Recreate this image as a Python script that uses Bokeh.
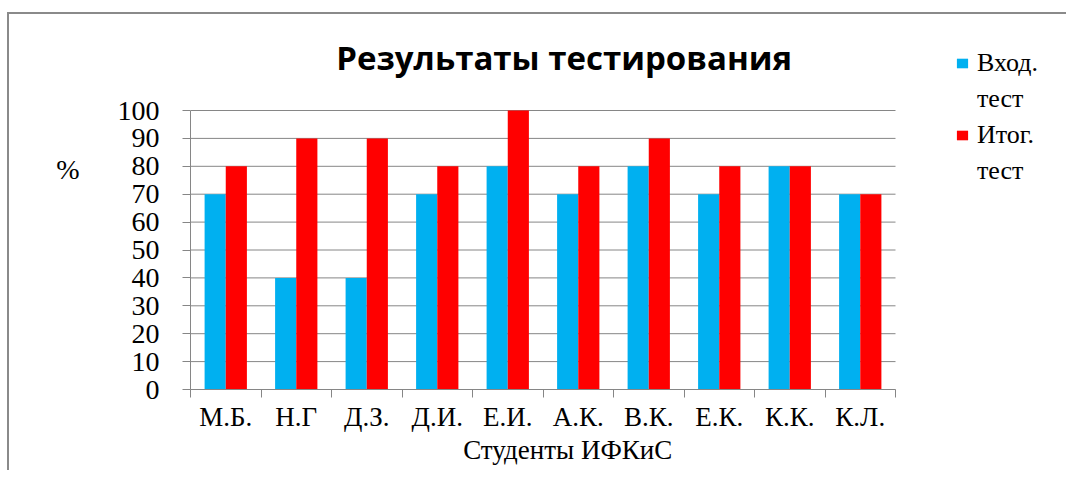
from bokeh.plotting import figure
from bokeh.models import FixedTicker, Legend, LegendItem, Range1d, LinearAxis, Label
from bokeh.embed import file_html
from bokeh.resources import INLINE

students = ["М.Б.", "Н.Г", "Д.З.", "Д.И.", "Е.И.", "А.К.", "В.К.", "Е.К.", "К.К.", "К.Л."]
vhod = [70, 40, 40, 70, 80, 70, 80, 70, 80, 70]
itog = [80, 90, 90, 80, 100, 80, 90, 80, 80, 70]
y_ticks = [0, 10, 20, 30, 40, 50, 60, 70, 80, 90, 100]
series_names = [["Вход.", "тест"], ["Итог.", "тест"]]
title_text = "Результаты  тестирования"
x_title = "Студенты ИФКиС"
y_title = "%"

BLUE = "#00B0F0"
RED = "#FF0000"
GRID = "#868686"
SERIF = "Liberation Serif"

n = len(students)
ymax = 100
centers = [i + 0.5 for i in range(n)]

# layout (pixels)
W, H = 1066, 470
MB_L, MB_R, MB_T, MB_B = 190, 0, 10, 81
PX_PER_CAT = 70.5
PX_PER_UNIT = 2.79
frame_w = W - MB_L - MB_R
frame_h = H - MB_T - MB_B
x_end = frame_w / PX_PER_CAT
y_end = frame_h / PX_PER_UNIT

p = figure(width=W, height=H, output_backend="svg", toolbar_location=None,
           x_range=Range1d(0, x_end), y_range=Range1d(0, y_end),
           min_border_left=MB_L, min_border_right=MB_R,
           min_border_top=MB_T, min_border_bottom=MB_B)
p.styles = {"background": "linear-gradient(#8a8a8a,#8a8a8a) 7px 12px / 100% 2px no-repeat, "
                          "linear-gradient(#8a8a8a,#8a8a8a) 7px 12px / 2px 100% no-repeat"}
p.outline_line_color = None
p.background_fill_alpha = 0
p.border_fill_alpha = 0
p.xgrid.visible = False
p.ygrid.visible = False

# horizontal gridlines limited to the plot area
p.segment(x0=[0] * len(y_ticks), x1=[n] * len(y_ticks), y0=y_ticks, y1=y_ticks,
          line_color=GRID, line_width=1)

r1 = p.vbar(x=[c - 0.15 for c in centers], top=vhod, bottom=0, width=0.3,
            fill_color=BLUE, line_color=None)
r2 = p.vbar(x=[c + 0.15 for c in centers], top=itog, bottom=0, width=0.3,
            fill_color=RED, line_color=None)
# invisible renderer used for the second line of each legend entry
r_blank = p.vbar(x=[], top=[], width=0.3, fill_alpha=0, line_alpha=0)

ya = p.yaxis[0]
ya.bounds = (0, ymax)
ya.ticker = FixedTicker(ticks=y_ticks)
ya.axis_line_color = GRID
ya.major_tick_line_color = GRID
ya.major_tick_out = 8
ya.major_tick_in = 0
ya.minor_tick_line_color = None
ya.major_label_standoff = 23
ya.major_label_text_font = SERIF
ya.major_label_text_font_size = "28px"
ya.major_label_text_color = "black"

# "%" placed as a second, tick-less left axis
pa = LinearAxis(ticker=FixedTicker(ticks=[79]), major_label_overrides={79: y_title},
                axis_line_color=None, major_tick_line_color=None,
                minor_tick_line_color=None, major_tick_out=0, major_tick_in=0,
                major_label_standoff=35, major_label_text_font=SERIF,
                major_label_text_font_size="28px", major_label_text_color="black")
p.add_layout(pa, "left")

xa = p.xaxis[0]
xa.bounds = (0, n)
xa.ticker = FixedTicker(ticks=centers, minor_ticks=list(range(n + 1)))
xa.major_label_overrides = {c: s for c, s in zip(centers, students)}
xa.axis_line_color = GRID
xa.major_tick_line_color = None
xa.major_tick_out = 0
xa.major_tick_in = 0
xa.minor_tick_line_color = GRID
xa.minor_tick_out = 8
xa.minor_tick_in = 0
xa.major_label_standoff = 4
xa.major_label_text_font = SERIF
xa.major_label_text_font_size = "27px"
xa.major_label_text_color = "black"

# x-axis title as a tick-less second axis, centred like the reference
xt_pos = 5.35
xb = LinearAxis(ticker=FixedTicker(ticks=[xt_pos]), major_label_overrides={xt_pos: x_title},
                axis_line_color=None, major_tick_line_color=None,
                minor_tick_line_color=None, major_tick_out=0, major_tick_in=0,
                major_label_standoff=0, major_label_text_font=SERIF,
                major_label_text_font_size="27px", major_label_text_color="black")
p.add_layout(xb, "below")

# title
p.add_layout(Label(x=(568 - MB_L) / PX_PER_CAT, y=(H - MB_B - 60 + 3) / PX_PER_UNIT,
                   text=title_text, text_align="center", text_baseline="middle",
                   text_font="Open Sans", text_font_size="33px",
                   text_font_style="bold", text_color="black"))

legend = Legend(items=[LegendItem(label=series_names[0][0], renderers=[r1]),
                       LegendItem(label=series_names[0][1], renderers=[r_blank]),
                       LegendItem(label=series_names[1][0], renderers=[r2]),
                       LegendItem(label=series_names[1][1], renderers=[r_blank])],
                location=(765, 203))
legend.border_line_color = None
legend.background_fill_alpha = 0
legend.label_text_font = SERIF
legend.label_text_font_size = "26px"
legend.label_text_color = "black"
legend.glyph_width = 14
legend.glyph_height = 12
legend.label_standoff = 8
legend.spacing = 6
legend.padding = 0
legend.margin = 0
p.add_layout(legend, "center")

open("out.html", "w").write(file_html(p, INLINE))
